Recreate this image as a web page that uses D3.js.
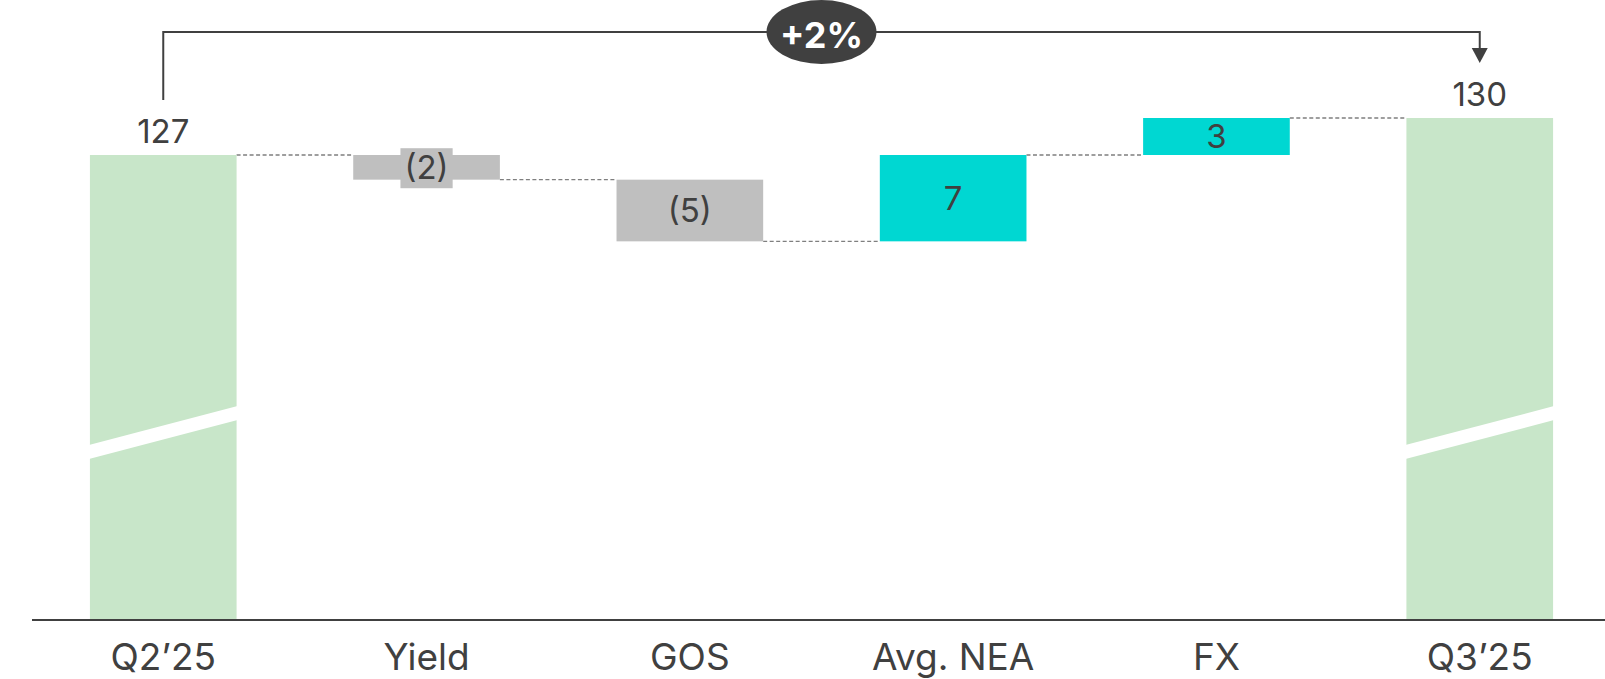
<!DOCTYPE html>
<html lang="en">
<head>
    <meta charset="utf-8">
    <title>Bridge Q2'25 to Q3'25</title>
    <style>
    body { margin: 0; background: #fff; }
    svg text { font-family: Inter, "Noto Sans", sans-serif; fill: #404040; }
    .connector { stroke: #7f7f7f; stroke-width: 1.4; stroke-dasharray: 4 2.5; }
    </style>
    <script src="https://d3js.org/d3.v7.min.js"></script>
</head>
<body>
<script type="text/javascript">
const categories = ["Q2\u201925", "Yield", "GOS", "Avg. NEA", "FX", "Q3\u201925"];
const values = [127, -2, -5, 7, 3, 130];
const kinds = ["total", "delta", "delta", "delta", "delta", "total"];
const valueLabels = ["127", "(2)", "(5)", "7", "3", "130"];
const changeLabel = "+2%";

const width = 1605;
const height = 679;
const fontSize = 33;
const catFontSize = 37;

const svg = d3.select("body").append("svg")
    .attr("width", width)
    .attr("height", height);

const x = d3.scaleBand()
    .domain(categories)
    .range([32, 1611])
    .paddingInner(0.443)
    .paddingOuter(0.22);

// axis is broken, so the scale starts far above zero
const y = d3.scaleLinear()
    .domain([89.3, 130])
    .range([620, 118]);

const breakValue = 104.5;

// running totals for the waterfall
let running = 0;
const bars = categories.map((c, i) => {
    let start, end;
    if (kinds[i] === "total") {
        start = y.domain()[0];
        end = values[i];
        running = values[i];
    } else {
        start = running;
        end = running + values[i];
        running = end;
    }
    return {cat: c, start: start, end: end, kind: kinds[i], value: values[i], label: valueLabels[i]};
});

const colour = d => d.kind === "total" ? "#c8e6c9" : (d.value < 0 ? "#bfbfbf" : "#00d7d2");

// connectors
for (let i = 0; i < bars.length - 1; i++) {
    const level = bars[i].end;
    svg.append("line")
        .attr("class", "connector")
        .attr("x1", x(bars[i].cat) + x.bandwidth())
        .attr("x2", x(bars[i + 1].cat))
        .attr("y1", y(level))
        .attr("y2", y(level));
}

svg.selectAll("rect.bar")
    .data(bars)
    .enter()
    .append("rect")
    .attr("class", "bar")
    .attr("x", d => x(d.cat))
    .attr("width", x.bandwidth())
    .attr("y", d => y(Math.max(d.start, d.end)))
    .attr("height", d => Math.abs(y(d.start) - y(d.end)))
    .style("fill", colour);

// break marks on the total bars
bars.filter(d => d.kind === "total").forEach(d => {
    const x0 = x(d.cat) - 1, x1 = x(d.cat) + x.bandwidth() + 1;
    const yc = y(breakValue);
    const tilt = 19.5, half = 7;
    svg.append("path")
        .attr("d", `M${x0},${yc + tilt - half} L${x1},${yc - tilt - half} L${x1},${yc - tilt + half} L${x0},${yc + tilt + half} Z`)
        .style("fill", "white");
});

// axis line
svg.append("line")
    .attr("x1", 32).attr("x2", width)
    .attr("y1", y.range()[0]).attr("y2", y.range()[0])
    .style("stroke", "#404040")
    .style("stroke-width", 2);

// category labels
svg.selectAll("text.cat")
    .data(categories)
    .enter()
    .append("text")
    .attr("class", "cat")
    .attr("x", d => x(d) + x.bandwidth() / 2)
    .attr("y", 670)
    .attr("text-anchor", "middle")
    .style("font-size", catFontSize + "px")
    .text(d => d);

// value labels
bars.forEach(d => {
    const cx = x(d.cat) + x.bandwidth() / 2;
    if (d.kind === "total") {
        svg.append("text")
            .attr("x", cx)
            .attr("y", y(d.end) - 12)
            .attr("text-anchor", "middle")
            .style("font-size", fontSize + "px")
            .text(d.label);
    } else {
        const mid = (y(d.start) + y(d.end)) / 2;
        const g = svg.append("g");
        const bg = g.append("rect");
        const t = g.append("text")
            .attr("x", cx)
            .attr("y", mid + fontSize * 0.36)
            .attr("text-anchor", "middle")
            .style("font-size", fontSize + "px")
            .text(d.label);
        const bb = t.node().getBBox();
        const barH = Math.abs(y(d.start) - y(d.end));
        // thin bars get a patch behind the label so it stays readable
        if (barH < 30) {
            bg.attr("x", bb.x - 4).attr("y", bb.y + 1)
                .attr("width", bb.width + 8).attr("height", bb.height)
                .style("fill", colour(d));
        }
    }
});

// change bracket
const xa = x(categories[0]) + x.bandwidth() / 2;
const xb = x(categories[categories.length - 1]) + x.bandwidth() / 2;
const yTop = 32;
svg.append("path")
    .attr("d", `M${xa},${y(values[0]) - 55} V${yTop} H${xb} V${yTop + 18}`)
    .style("fill", "none")
    .style("stroke", "#404040")
    .style("stroke-width", 2);
svg.append("path")
    .attr("d", `M${xb - 8},${yTop + 16} L${xb + 8},${yTop + 16} L${xb},${yTop + 31} Z`)
    .style("fill", "#404040");

svg.append("ellipse")
    .attr("cx", (xa + xb) / 2)
    .attr("cy", yTop)
    .attr("rx", 55)
    .attr("ry", 32)
    .style("fill", "#404040");
svg.append("text")
    .attr("x", (xa + xb) / 2)
    .attr("y", yTop + 16)
    .attr("text-anchor", "middle")
    .style("font-size", "36px")
    .style("font-weight", "bold")
    .style("fill", "white")
    .text(changeLabel);
</script>
</body>
</html>
